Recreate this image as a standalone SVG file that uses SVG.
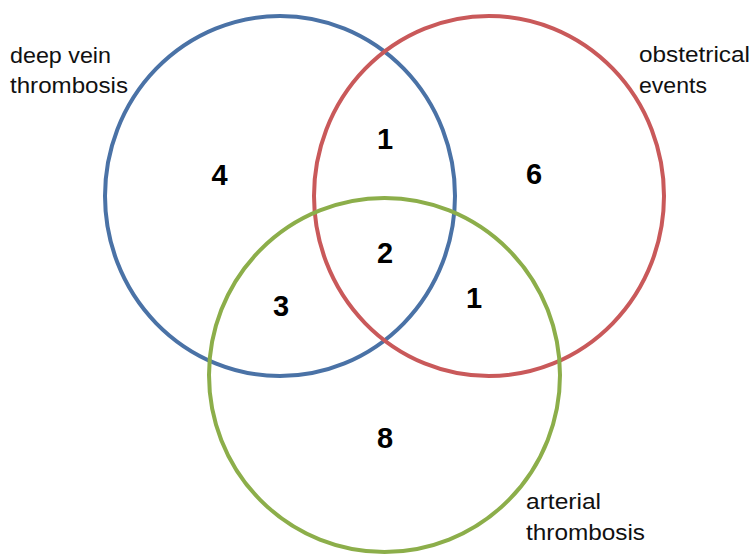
<svg xmlns="http://www.w3.org/2000/svg" width="752" height="556" viewBox="0 0 752 556">
<style>
.c{fill:none;stroke-width:4}
.lbl{font-family:"Liberation Sans",Arial,sans-serif;font-size:22px;fill:#111}
.num{font-family:"Liberation Sans",Arial,sans-serif;font-size:29px;font-weight:bold;fill:#000;text-anchor:middle}
</style>
<rect width="752" height="556" fill="#fff"/>
<g id="dvt">
<ellipse class="c" cx="280" cy="196" rx="175" ry="180" stroke="#4A72A6"/>
<text class="lbl" x="10" y="63" textLength="101" lengthAdjust="spacingAndGlyphs">deep vein</text>
<text class="lbl" x="10" y="93" textLength="118" lengthAdjust="spacingAndGlyphs">thrombosis</text>
</g>
<g id="obs">
<ellipse class="c" cx="489" cy="196" rx="175" ry="180" stroke="#C9595A"/>
<text class="lbl" x="639" y="62" textLength="111" lengthAdjust="spacingAndGlyphs">obstetrical</text>
<text class="lbl" x="639" y="93" textLength="68" lengthAdjust="spacingAndGlyphs">events</text>
</g>
<g id="art">
<ellipse class="c" cx="384.5" cy="375" rx="175.5" ry="177" stroke="#8CAE4A"/>
<text class="lbl" x="526" y="509" textLength="75" lengthAdjust="spacingAndGlyphs">arterial</text>
<text class="lbl" x="526" y="540" textLength="119" lengthAdjust="spacingAndGlyphs">thrombosis</text>
</g>
<g id="counts">
<text class="num" x="219.5" y="185">4</text>
<text class="num" x="385" y="149">1</text>
<text class="num" x="534" y="184">6</text>
<text class="num" x="385" y="263">2</text>
<text class="num" x="281" y="316">3</text>
<text class="num" x="474" y="308">1</text>
<text class="num" x="385" y="448">8</text>
</g>
</svg>
